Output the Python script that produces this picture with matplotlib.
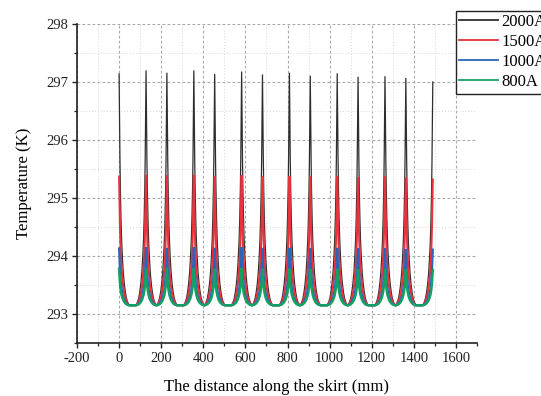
import numpy as np
import matplotlib
matplotlib.use("Agg")
import matplotlib.pyplot as plt
from matplotlib.ticker import MultipleLocator

plt.rcParams["font.family"] = ["Liberation Serif", "DejaVu Serif"]
plt.rcParams["axes.unicode_minus"] = False

# Heating currents and the matching line colours
currents = ["2000A", "1500A", "1000A", "800A"]
colors = ["#2e2e2e", "#e8323c", "#2a64b8", "#12a064"]
widths = [0.9, 1.5, 1.6, 1.8]

# Positions of the hot spots along the skirt (mm)
peak_pos = [0, 128, 227, 355, 454, 582, 681, 809, 908, 1036, 1135, 1263, 1362, 1490]

# Ambient temperature (K)
base_temp = 293.15

# Peak temperature at every hot spot, per current (K)
peaks_2000 = [297.14, 297.20, 297.16, 297.20, 297.14, 297.18, 297.13,
              297.16, 297.11, 297.15, 297.09, 297.10, 297.07, 297.00]
peaks_1500 = [295.37, 295.40, 295.39, 295.40, 295.38, 295.39, 295.37,
              295.38, 295.37, 295.38, 295.36, 295.37, 295.35, 295.32]
peaks_1000 = [294.13, 294.15, 294.14, 294.15, 294.14, 294.15, 294.14,
              294.14, 294.13, 294.14, 294.13, 294.13, 294.12, 294.11]
peaks_800 = [293.78, 293.79, 293.79, 293.79, 293.78, 293.79, 293.78,
             293.78, 293.78, 293.78, 293.77, 293.78, 293.77, 293.76]
peak_temps = [peaks_2000, peaks_1500, peaks_1000, peaks_800]

# Normalised temperature rise versus distance from a hot spot (mm)
prof_off = [0, 2, 4, 6, 9, 12, 16, 20, 25, 30, 35, 40, 45, 49]
prof_rise = [1.0, 0.80, 0.63, 0.50, 0.37, 0.28, 0.20, 0.14, 0.09,
             0.055, 0.03, 0.015, 0.005, 0.0]


def build_curve(peaks):
    xs, ys = [], []
    n = len(peak_pos)
    for i, (p, t) in enumerate(zip(peak_pos, peaks)):
        rise = t - base_temp
        if i > 0:
            for off, g in zip(prof_off[:0:-1], prof_rise[:0:-1]):
                xs.append(p - off)
                ys.append(base_temp + rise * g)
        xs.append(p)
        ys.append(t)
        if i < n - 1:
            for off, g in zip(prof_off[1:], prof_rise[1:]):
                xs.append(p + off)
                ys.append(base_temp + rise * g)
    return np.array(xs), np.array(ys)


fig = plt.figure(figsize=(5.41, 3.96), dpi=100)
ax = fig.add_axes([77 / 541, 1 - 343 / 396, 400 / 541, 319 / 396])

lines = []
for name, col, lw, pk in zip(currents, colors, widths, peak_temps):
    x, y = build_curve(pk)
    ln, = ax.plot(x, y, color=col, lw=lw, label=name, solid_joinstyle="miter")
    lines.append(ln)

ax.set_xlim(-200, 1700)
ax.set_ylim(292.5, 298)
ax.xaxis.set_major_locator(MultipleLocator(200))
ax.xaxis.set_minor_locator(MultipleLocator(100))
ax.yaxis.set_major_locator(MultipleLocator(1))
ax.yaxis.set_minor_locator(MultipleLocator(0.5))

ax.set_axisbelow(True)
ax.grid(which="major", color="#a8a8a8", lw=0.8, ls=(0, (2.5, 2.0)))
ax.grid(which="minor", color="#d8d8d8", lw=0.7, ls=(0, (1.0, 2.0)))

for s in ["top", "right"]:
    ax.spines[s].set_visible(False)
for s in ["left", "bottom"]:
    ax.spines[s].set_linewidth(1.2)
    ax.spines[s].set_color("#222222")

ax.tick_params(which="major", direction="out", length=3.5, width=1.0,
               labelsize=10.5, colors="#222222", pad=3)
ax.tick_params(which="minor", direction="out", length=2.0, width=0.9,
               colors="#222222")

ax.set_xlabel("The distance along the skirt (mm)", fontsize=12, labelpad=10)
ax.set_ylabel("Temperature (K)", fontsize=12, labelpad=10)

# Legend box sits in the top-right corner and runs off the right edge
leg = fig.legend(handles=lines, loc="upper left",
                 bbox_to_anchor=(456 / 541, 1 - 11 / 396),
                 fontsize=12, frameon=True, fancybox=False,
                 edgecolor="#222222", framealpha=1.0,
                 handlelength=2.3, handletextpad=0.2,
                 labelspacing=0.24, borderpad=0.2, borderaxespad=0.0)
leg.get_frame().set_linewidth(1.0)
for h in leg.legend_handles:
    h.set_linewidth(1.3)

fig.savefig("out.png", dpi=100)
